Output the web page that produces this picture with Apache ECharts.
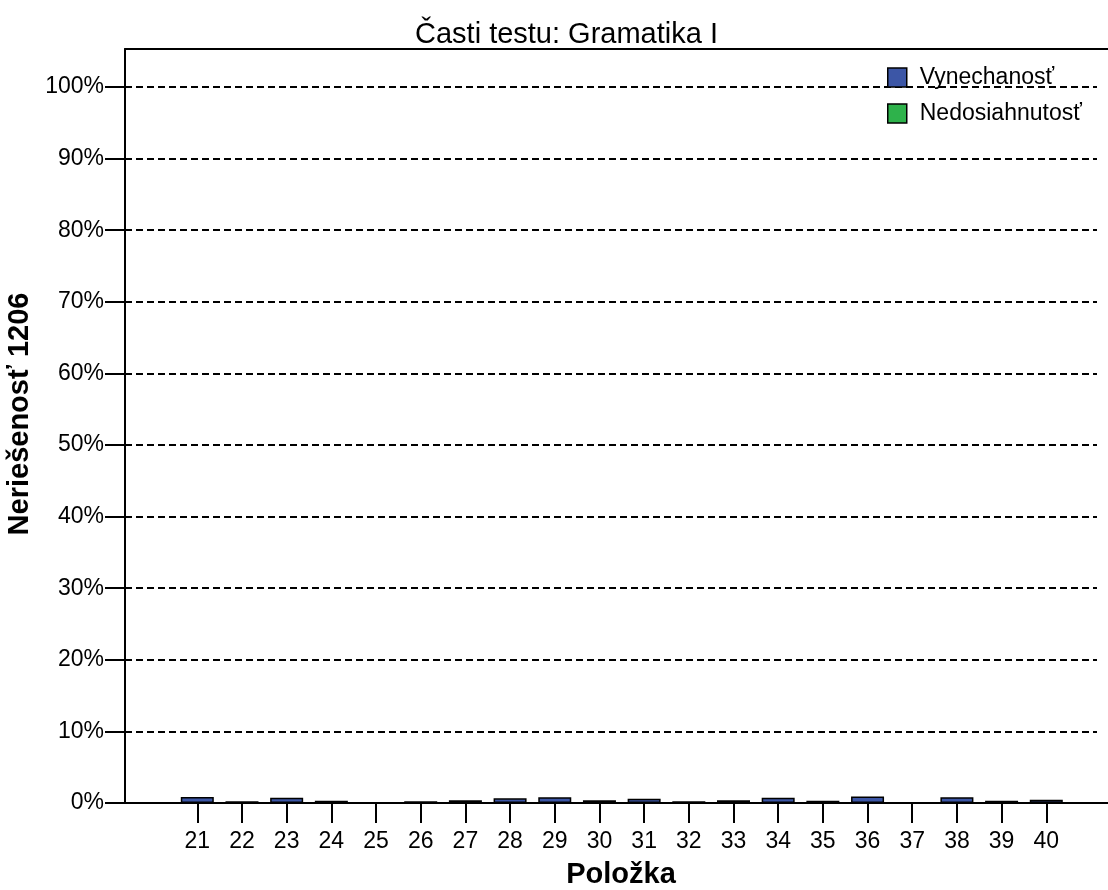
<!DOCTYPE html>
<html>
<head>
<meta charset="utf-8">
<script src="https://cdn.jsdelivr.net/npm/echarts@6/dist/echarts.min.js"></script>
<style>
  html, body { margin: 0; padding: 0; background: #fff; }
  #chart { width: 1108px; height: 890px; }
</style>
</head>
<body>
<div id="chart"></div>
<script>
const categories = [21, 22, 23, 24, 25, 26, 27, 28, 29, 30, 31, 32, 33, 34, 35, 36, 37, 38, 39, 40];
const vynechanost = [0.84, 0.24, 0.75, 0.33, 0.05, 0.24, 0.37, 0.65, 0.8, 0.37, 0.6, 0.24, 0.37, 0.75, 0.33, 0.9, 0.1, 0.8, 0.33, 0.47];
const nedosiahnutost = [0, 0, 0, 0, 0, 0, 0, 0, 0, 0, 0, 0, 0, 0, 0, 0, 0, 0, 0, 0];
const yTicks = [0, 10, 20, 30, 40, 50, 60, 70, 80, 90, 100];
const seriesNames = ['Vynechanosť', 'Nedosiahnutosť'];

const FONT = "'Liberation Sans', Arial, sans-serif";
const chart = echarts.init(document.getElementById('chart'), null, { renderer: 'canvas' });

const pairs = (arr) => categories.map((c, i) => [c, arr[i]]);

chart.setOption({
  animation: false,
  backgroundColor: '#ffffff',
  textStyle: { fontFamily: FONT, color: '#000' },
  title: {
    text: 'Časti testu: Gramatika I',
    left: 415,
    top: 20,
    padding: 0,
    textStyle: { fontFamily: FONT, fontSize: 29, fontWeight: 'normal', color: '#000' }
  },
  legend: {
    orient: 'vertical',
    left: 887,
    top: 66,
    padding: 0,
    itemGap: 13,
    itemWidth: 19,
    itemHeight: 19,
    icon: 'rect',
    itemStyle: { borderColor: '#000', borderWidth: 1.5 },
    textStyle: { fontFamily: FONT, fontSize: 23, color: '#000', padding: [0, 0, 0, 8] },
    data: seriesNames
  },
  grid: { left: 125, right: 11, top: 49, bottom: 87, containLabel: false, outerBoundsMode: 'none' },
  xAxis: [{
    type: 'value',
    min: 19.382,
    max: 41.135,
    name: 'Položka',
    nameLocation: 'middle',
    nameGap: 57,
    nameTextStyle: { fontFamily: FONT, fontSize: 29, fontWeight: 'bold', color: '#000', padding: [0, 0, 0, 20] },
    axisLine: { show: true, lineStyle: { color: '#000', width: 2 } },
    axisTick: { show: true, length: 20, customValues: categories, lineStyle: { color: '#000', width: 2 } },
    axisLabel: { show: true, customValues: categories, margin: 27, fontFamily: FONT, fontSize: 23, color: '#000' },
    splitLine: { show: false }
  }, {
    type: 'value',
    position: 'top',
    min: 19.382,
    max: 41.135,
    axisLine: { show: true, onZero: false, lineStyle: { color: '#000', width: 2 } },
    axisTick: { show: false },
    axisLabel: { show: false },
    splitLine: { show: false }
  }],
  yAxis: {
    type: 'value',
    min: 0,
    max: 105.3,
    name: 'Neriešenosť 1206',
    nameLocation: 'middle',
    nameGap: 81,
    nameTextStyle: { fontFamily: FONT, fontSize: 29, fontWeight: 'bold', color: '#000', padding: [0, 0, 0, 24] },
    axisLine: { show: true, lineStyle: { color: '#000', width: 2 } },
    axisTick: { show: true, length: 20, customValues: yTicks, lineStyle: { color: '#000', width: 2 } },
    axisLabel: { show: true, customValues: yTicks, margin: 21, fontFamily: FONT, fontSize: 23, color: '#000', formatter: (v) => v + '%' },
    splitLine: { show: true, lineStyle: { color: '#000', width: 2, type: [7, 4] } }
  },
  graphic: [
    { type: 'line', shape: { x1: 1096, y1: 49, x2: 1108, y2: 49 }, style: { stroke: '#000', lineWidth: 2 } },
    { type: 'line', shape: { x1: 1096, y1: 803, x2: 1108, y2: 803 }, style: { stroke: '#000', lineWidth: 2 } }
  ],
  series: [{
    name: seriesNames[0],
    type: 'bar',
    stack: 'total',
    barWidth: 33,
    data: pairs(vynechanost),
    itemStyle: { color: '#3c56a6', borderColor: '#000', borderWidth: 1.5 }
  }, {
    name: seriesNames[1],
    type: 'bar',
    stack: 'total',
    barWidth: 33,
    data: pairs(nedosiahnutost),
    itemStyle: { color: '#2eb24b', borderColor: '#000', borderWidth: 1.5 }
  }]
});
</script>
</body>
</html>
